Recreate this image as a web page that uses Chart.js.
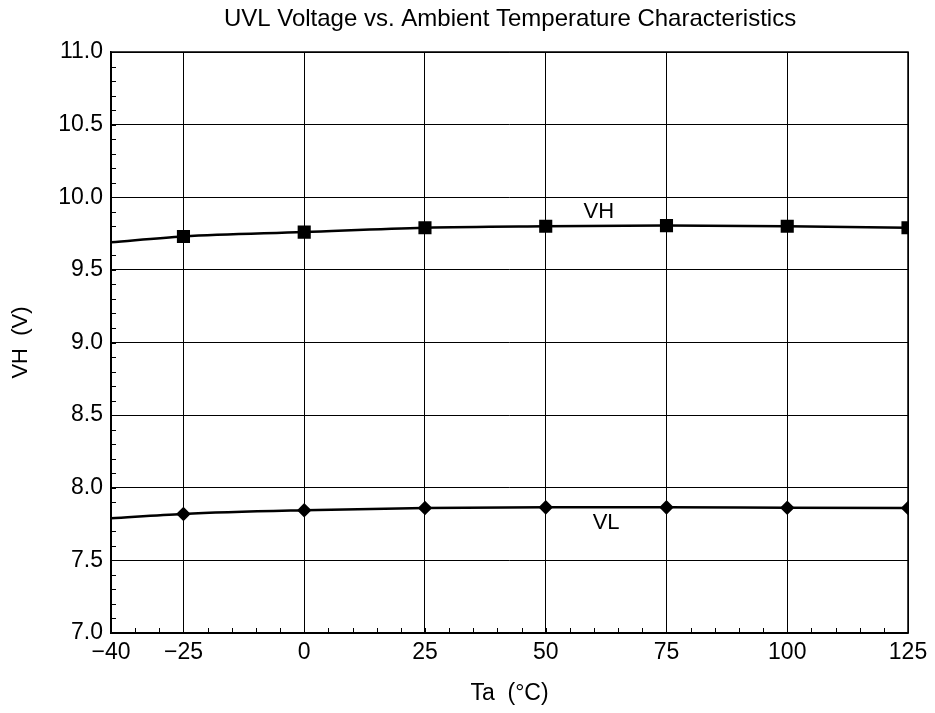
<!DOCTYPE html>
<html>
<head>
<meta charset="utf-8">
<script src="https://cdn.jsdelivr.net/npm/chart.js@4.4.1/dist/chart.umd.min.js"></script>
<style>
  html, body { margin: 0; padding: 0; background: #fff; }
  #wrap { width: 935px; height: 713px; }
</style>
</head>
<body>
<div id="wrap"><canvas id="chUvl" width="935" height="713"></canvas></div>
<script>
// data
var temps = [-40, -25, 0, 25, 50, 75, 100, 125];
var vhValues = [9.69, 9.73, 9.76, 9.79, 9.80, 9.805, 9.80, 9.79];
var vlValues = [7.79, 7.82, 7.845, 7.86, 7.865, 7.865, 7.862, 7.86];
var xTicks = [-40, -25, 0, 25, 50, 75, 100, 125];
var yTicks = [7.0, 7.5, 8.0, 8.5, 9.0, 9.5, 10.0, 10.5, 11.0];

var fontFam = '"Liberation Sans", Arial, sans-serif';

function pts(arr) {
    return temps.map(function(t, i) { return { x: t, y: arr[i] }; });
}

// no marker on the first (-40) point
var markerR = function(r) { return temps.map(function(t) { return t === -40 ? 0 : r; }); };

// frame, minor ticks, title and curve labels
var decorations = {
    id: 'decorations',
    afterDraw: function(chart) {
        var ctx = chart.ctx, a = chart.chartArea;
        var xs = chart.scales.x, ys = chart.scales.y;
        ctx.save();
        ctx.strokeStyle = '#000';
        ctx.lineWidth = 1.5;
        ctx.strokeRect(a.left, a.top, a.right - a.left, a.bottom - a.top);

        // minor ticks pointing inward
        ctx.lineWidth = 1;
        ctx.beginPath();
        for (var v = 7.0; v <= 11.0001; v += 0.1) {
            var py = Math.round(ys.getPixelForValue(v)) + 0.5;
            ctx.moveTo(a.left, py);
            ctx.lineTo(a.left + 5, py);
        }
        for (var t = -35; t < 125; t += 5) {
            var px = Math.round(xs.getPixelForValue(t)) + 0.5;
            ctx.moveTo(px, a.bottom);
            ctx.lineTo(px, a.bottom - 5);
        }
        ctx.stroke();

        ctx.fillStyle = '#000';
        ctx.textAlign = 'center';
        ctx.textBaseline = 'middle';
        ctx.font = '24px ' + fontFam;
        ctx.fillText('UVL Voltage vs. Ambient Temperature Characteristics', 510, 19);

        ctx.font = '22px ' + fontFam;
        ctx.fillText('VH', xs.getPixelForValue(61), ys.getPixelForValue(9.9));
        ctx.fillText('VL', xs.getPixelForValue(62.5), ys.getPixelForValue(7.757));
        ctx.restore();
    }
};

new Chart(document.getElementById('chUvl'), {
    type: 'line',
    data: {
        datasets: [{
            label: 'VH',
            data: pts(vhValues),
            borderColor: '#000',
            backgroundColor: '#000',
            borderWidth: 2.5,
            pointStyle: 'rect',
            pointRadius: markerR(7.5),
            cubicInterpolationMode: 'monotone'
        }, {
            label: 'VL',
            data: pts(vlValues),
            borderColor: '#000',
            backgroundColor: '#000',
            borderWidth: 2.5,
            pointStyle: 'rectRot',
            pointRadius: markerR(5.5),
            cubicInterpolationMode: 'monotone'
        }]
    },
    options: {
        responsive: false,
        animation: false,
        layout: { padding: { top: 52, right: 27, left: 0, bottom: 0 } },
        plugins: { legend: { display: false }, tooltip: { enabled: false } },
        scales: {
            x: {
                type: 'linear',
                min: -40, max: 125,
                afterBuildTicks: function(s) { s.ticks = xTicks.map(function(v) { return { value: v }; }); },
                afterFit: function(s) { s.height = 80; },
                grid: { color: '#000', lineWidth: 1, drawTicks: false },
                border: { display: true, color: '#000', width: 1.5 },
                ticks: {
                    color: '#000', padding: 6,
                    font: { family: fontFam, size: 23 },
                    callback: function(v) { return v < 0 ? '\u2212' + Math.abs(v) : String(v); }
                },
                title: {
                    display: true, text: 'Ta  (\u00b0C)', color: '#000',
                    font: { family: fontFam, size: 23 }, padding: { top: 4, bottom: 6 }
                }
            },
            y: {
                type: 'linear',
                min: 7, max: 11,
                afterBuildTicks: function(s) { s.ticks = yTicks.map(function(v) { return { value: v }; }); },
                afterFit: function(s) { s.width = 111; },
                grid: { color: '#000', lineWidth: 1, drawTicks: false },
                border: { display: true, color: '#000', width: 1.5 },
                ticks: {
                    color: '#000', padding: 8,
                    font: { family: fontFam, size: 23 },
                    callback: function(v) { return Number(v).toFixed(1); }
                },
                title: {
                    display: true, text: 'VH  (V)', color: '#000',
                    font: { family: fontFam, size: 22 }, padding: { top: 8, bottom: 4 }
                }
            }
        }
    },
    plugins: [decorations]
});
</script>
</body>
</html>
